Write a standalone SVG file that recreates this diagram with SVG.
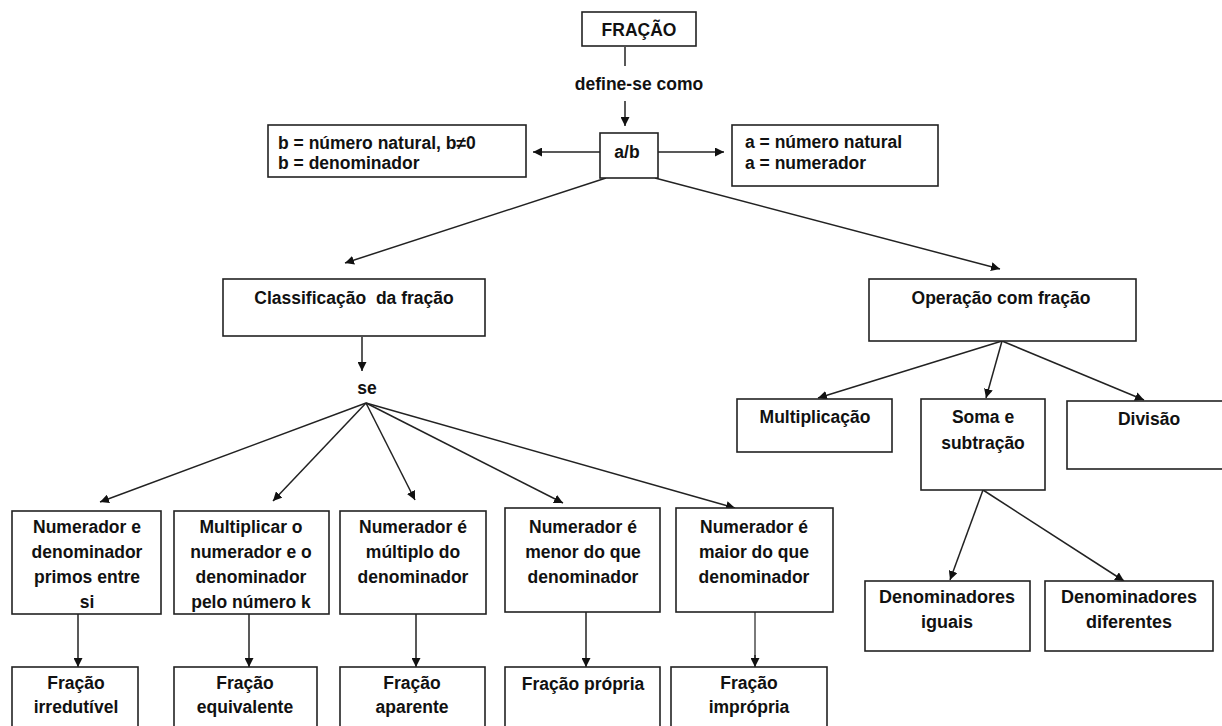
<svg xmlns="http://www.w3.org/2000/svg" width="1222" height="726" viewBox="0 0 1222 726">
  <style>
    .box { fill: #ffffff; stroke: #222222; stroke-width: 1.6; }
    .t { font-family: "Liberation Sans", Arial, sans-serif; font-weight: bold; font-size: 17.5px; fill: #111111; white-space: pre; }
    .c { text-anchor: middle; }
    .lg { font-size: 18px; }
    .edge { stroke: #222222; stroke-width: 1.5; fill: none; }
    .arrow { marker-end: url(#head); }
    .grey { stroke: #7a7a7a; stroke-width: 2; }
  </style>
  <defs>
    <marker id="head" viewBox="0 0 10 10" refX="10" refY="5" markerWidth="9" markerHeight="9" markerUnits="userSpaceOnUse" orient="auto">
      <path d="M0,0 L10,5 L0,10 z" fill="#111111"/>
    </marker>
  </defs>

  <rect width="1222" height="726" fill="#ffffff"/>

  <!-- connectors -->
  <g id="connectors">
    <line class="edge" x1="625" y1="47" x2="625" y2="66"/>
    <line class="edge arrow" x1="625" y1="101" x2="625" y2="126"/>
    <line class="edge arrow" x1="600" y1="152" x2="533" y2="152"/>
    <line class="edge arrow" x1="658" y1="152" x2="724" y2="152"/>
    <line class="edge arrow" x1="606" y1="178" x2="345" y2="263"/>
    <line class="edge arrow" x1="655" y1="178" x2="1000" y2="269"/>
    <line class="edge arrow" x1="362" y1="337" x2="362" y2="371"/>
    <line class="edge arrow" x1="366" y1="403" x2="100" y2="502"/>
    <line class="edge arrow" x1="366" y1="403" x2="273" y2="501"/>
    <line class="edge arrow" x1="366" y1="403" x2="415" y2="500"/>
    <line class="edge arrow" x1="366" y1="403" x2="563" y2="503"/>
    <line class="edge arrow" x1="366" y1="403" x2="735" y2="508"/>
    <line class="edge arrow" x1="78" y1="614" x2="78" y2="667"/>
    <line class="edge arrow" x1="249" y1="614" x2="249" y2="667"/>
    <line class="edge arrow" x1="416" y1="614" x2="416" y2="667"/>
    <line class="edge arrow" x1="586" y1="612" x2="586" y2="667"/>
    <line class="edge grey" x1="755" y1="612" x2="755" y2="660"/>
    <line class="edge arrow" x1="755" y1="655" x2="755" y2="667"/>
    <line class="edge arrow" x1="1002" y1="341" x2="818" y2="398"/>
    <line class="edge arrow" x1="1002" y1="341" x2="986" y2="398"/>
    <line class="edge arrow" x1="1002" y1="341" x2="1144" y2="400"/>
    <line class="edge arrow" x1="983" y1="490" x2="950" y2="580"/>
    <line class="edge arrow" x1="983" y1="490" x2="1124" y2="581"/>
  </g>

  <g id="fracao">
    <rect class="box" x="582" y="12" width="114" height="34"/>
    <text class="t c" x="639" y="36">FRAÇÃO</text>
  </g>

  <g id="define-se">
    <text class="t c" x="639" y="90">define-se como</text>
  </g>

  <g id="ab">
    <rect class="box" x="600" y="133" width="58" height="45"/>
    <text class="t c" x="627" y="158">a/b</text>
  </g>

  <g id="denominador">
    <rect class="box" x="268" y="125" width="258" height="52"/>
    <text class="t" x="278" y="149">b = número natural, b≠0</text>
    <text class="t" x="278" y="169">b = denominador</text>
  </g>

  <g id="numerador">
    <rect class="box" x="732" y="125" width="206" height="61"/>
    <text class="t" x="745" y="148">a = número natural</text>
    <text class="t" x="745" y="169">a = numerador</text>
  </g>

  <g id="classificacao">
    <rect class="box" x="223" y="279" width="262" height="57"/>
    <text class="t c" x="354" y="304" xml:space="preserve">Classificação  da fração</text>
  </g>

  <g id="se">
    <text class="t c" x="367" y="394">se</text>
  </g>

  <g id="operacao">
    <rect class="box" x="869" y="279" width="267" height="62"/>
    <text class="t c" x="1001" y="304">Operação com fração</text>
  </g>

  <g id="multiplicacao">
    <rect class="box" x="737" y="399" width="155" height="53"/>
    <text class="t c" x="815" y="423">Multiplicação</text>
  </g>

  <g id="soma">
    <rect class="box" x="921" y="399" width="124" height="91"/>
    <text class="t c" x="983" y="423">Soma e</text>
    <text class="t c" x="983" y="449">subtração</text>
  </g>

  <g id="divisao">
    <rect class="box" x="1067" y="401" width="160" height="68"/>
    <text class="t c" x="1149" y="425">Divisão</text>
  </g>

  <g id="den-iguais">
    <rect class="box" x="865" y="581" width="165" height="70"/>
    <text class="t c lg" x="947" y="603">Denominadores</text>
    <text class="t c lg" x="947" y="628">iguais</text>
  </g>

  <g id="den-diferentes">
    <rect class="box" x="1045" y="581" width="168" height="70"/>
    <text class="t c lg" x="1129" y="603">Denominadores</text>
    <text class="t c lg" x="1129" y="628">diferentes</text>
  </g>

  <g id="primos">
    <rect class="box" x="12" y="511" width="149" height="103"/>
    <text class="t c" x="87" y="533">Numerador e</text>
    <text class="t c" x="87" y="558">denominador</text>
    <text class="t c" x="87" y="583">primos entre</text>
    <text class="t c" x="87" y="608">si</text>
  </g>

  <g id="multiplicar">
    <rect class="box" x="174" y="511" width="155" height="103"/>
    <text class="t c" x="251" y="533">Multiplicar o</text>
    <text class="t c" x="251" y="558">numerador e o</text>
    <text class="t c" x="251" y="583">denominador</text>
    <text class="t c" x="251" y="608">pelo número k</text>
  </g>

  <g id="multiplo">
    <rect class="box" x="340" y="511" width="146" height="103"/>
    <text class="t c" x="413" y="533">Numerador é</text>
    <text class="t c" x="413" y="558">múltiplo do</text>
    <text class="t c" x="413" y="583">denominador</text>
  </g>

  <g id="menor">
    <rect class="box" x="505" y="508" width="155" height="104"/>
    <text class="t c" x="583" y="533">Numerador é</text>
    <text class="t c" x="583" y="558">menor do que</text>
    <text class="t c" x="583" y="583">denominador</text>
  </g>

  <g id="maior">
    <rect class="box" x="676" y="508" width="157" height="104"/>
    <text class="t c" x="754" y="533">Numerador é</text>
    <text class="t c" x="754" y="558">maior do que</text>
    <text class="t c" x="754" y="583">denominador</text>
  </g>

  <g id="irredutivel">
    <rect class="box" x="12" y="667" width="126" height="80"/>
    <text class="t c" x="76" y="689">Fração</text>
    <text class="t c" x="76" y="713">irredutível</text>
  </g>

  <g id="equivalente">
    <rect class="box" x="174" y="667" width="143" height="80"/>
    <text class="t c" x="245" y="689">Fração</text>
    <text class="t c" x="245" y="713">equivalente</text>
  </g>

  <g id="aparente">
    <rect class="box" x="340" y="667" width="145" height="80"/>
    <text class="t c" x="412" y="689">Fração</text>
    <text class="t c" x="412" y="713">aparente</text>
  </g>

  <g id="propria">
    <rect class="box" x="505" y="667" width="155" height="80"/>
    <text class="t c" x="583" y="690">Fração própria</text>
  </g>

  <g id="impropria">
    <rect class="box" x="671" y="667" width="156" height="80"/>
    <text class="t c" x="749" y="689">Fração</text>
    <text class="t c" x="749" y="713">imprópria</text>
  </g>
</svg>
